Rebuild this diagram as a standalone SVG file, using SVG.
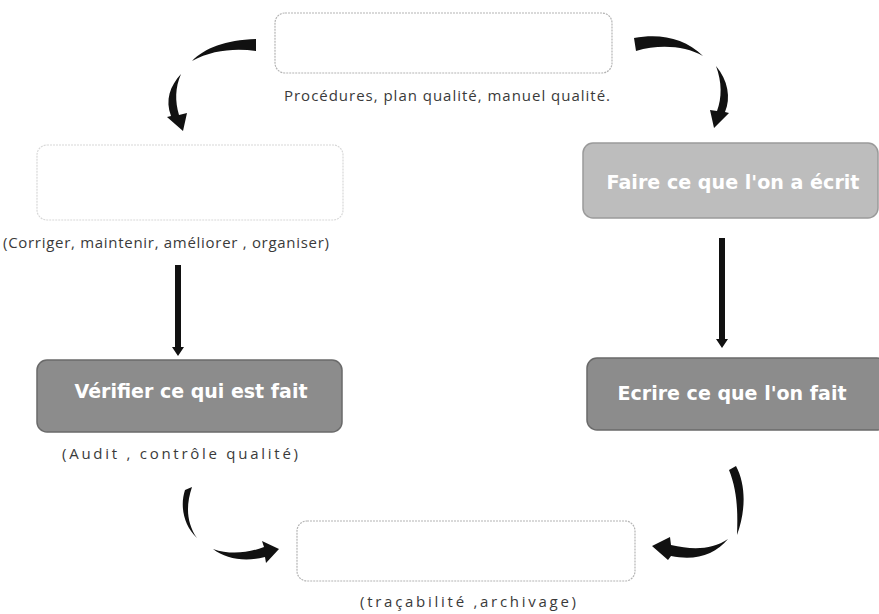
<svg xmlns="http://www.w3.org/2000/svg" width="879" height="614" viewBox="0 0 879 614">
<style>
.faint{fill:#ffffff;stroke:#b4b4b4;stroke-width:1.2;stroke-dasharray:2 1}
.mid{fill:#bdbdbd;stroke:#9a9a9a;stroke-width:1.5}
.dark{fill:#8c8c8c;stroke:#6a6a6a;stroke-width:1.5}
.cap{font-family:"Open Sans","Liberation Sans",sans-serif;font-size:15px;fill:#3a3a3a}
.lbl{font-family:"DejaVu Sans","Liberation Sans",sans-serif;font-weight:bold;font-size:20px;fill:#ffffff}
.arr{fill:#111111}
</style>
<rect width="879" height="614" fill="#ffffff"/>
<g id="planifier">
<rect class="faint" x="275" y="13" width="337" height="60" rx="10"/>
<text class="cap" x="447" y="101" text-anchor="middle" textLength="326" lengthAdjust="spacing">Procédures, plan qualité, manuel qualité.</text>
</g>
<g id="agir">
<rect class="faint" x="37" y="145" width="306" height="75" rx="10" style="stroke:#d8d8d8"/>
<text class="cap" x="166" y="248" text-anchor="middle" textLength="326" lengthAdjust="spacing">(Corriger, maintenir, améliorer , organiser)</text>
</g>
<g id="faire">
<rect class="mid" x="583" y="143" width="295" height="75" rx="10"/>
<text class="lbl" x="733" y="189" text-anchor="middle" textLength="253" lengthAdjust="spacingAndGlyphs">Faire ce que l'on a écrit</text>
</g>
<g id="verifier">
<rect class="dark" x="37" y="360" width="305" height="72" rx="10"/>
<text class="lbl" x="191" y="398" text-anchor="middle" textLength="233" lengthAdjust="spacingAndGlyphs">Vérifier ce qui est fait</text>
<text class="cap" x="180" y="459" text-anchor="middle" textLength="236" lengthAdjust="spacing">(Audit , contrôle qualité)</text>
</g>
<g id="ecrire">
<rect class="dark" x="587" y="358" width="300" height="72" rx="10"/>
<text class="lbl" x="732" y="400" text-anchor="middle" textLength="229" lengthAdjust="spacingAndGlyphs">Ecrire ce que l'on fait</text>
</g>
<g id="enregistrer">
<rect class="faint" x="297" y="521" width="338" height="60" rx="10"/>
<text class="cap" x="468" y="607" text-anchor="middle" textLength="216" lengthAdjust="spacing">(traçabilité ,archivage)</text>
</g>
<g id="connectors">
<path class="arr" d="M192 61 C205 48 225 40 256 39 L256 51 C235 48 212 50 192 61 Z"/>
<path class="arr" d="M181 74 C170 86 165 100 171 116 L167 117 L183 131 L187 113 L179 115 C175 101 175 88 181 74 Z"/>
<path class="arr" d="M634 38 C660 33 685 38 703 56 C685 46 660 44 636 51 Z"/>
<path class="arr" d="M716 66 C728 80 731 98 725 112 L729 113 L714 128 L710 110 L717 111 C722 98 722 82 716 66 Z"/>
<path class="arr" d="M729 470 L736 466 C746 485 746 510 737 535 C738 510 737 490 729 470 Z"/>
<path class="arr" d="M728 539 C712 550 692 550 671 545 L670 537 L652 546 L668 560 L671 556 C695 561 715 555 728 539 Z"/>
<path class="arr" d="M185 490 L192 487 C186 505 186 522 197 538 C183 525 180 505 185 490 Z"/>
<path class="arr" d="M213 549 C230 555 248 553 264 547 L262 541 L279 549 L266 563 L265 557 C245 562 226 559 213 549 Z"/>
<path class="arr" d="M175 265 L181 265 L181 347 L184 347 L178 356 L172 347 L175 347 Z"/>
<path class="arr" d="M719 238 L725 238 L725 339 L728 339 L722 348 L716 339 L719 339 Z"/>
</g>
</svg>
